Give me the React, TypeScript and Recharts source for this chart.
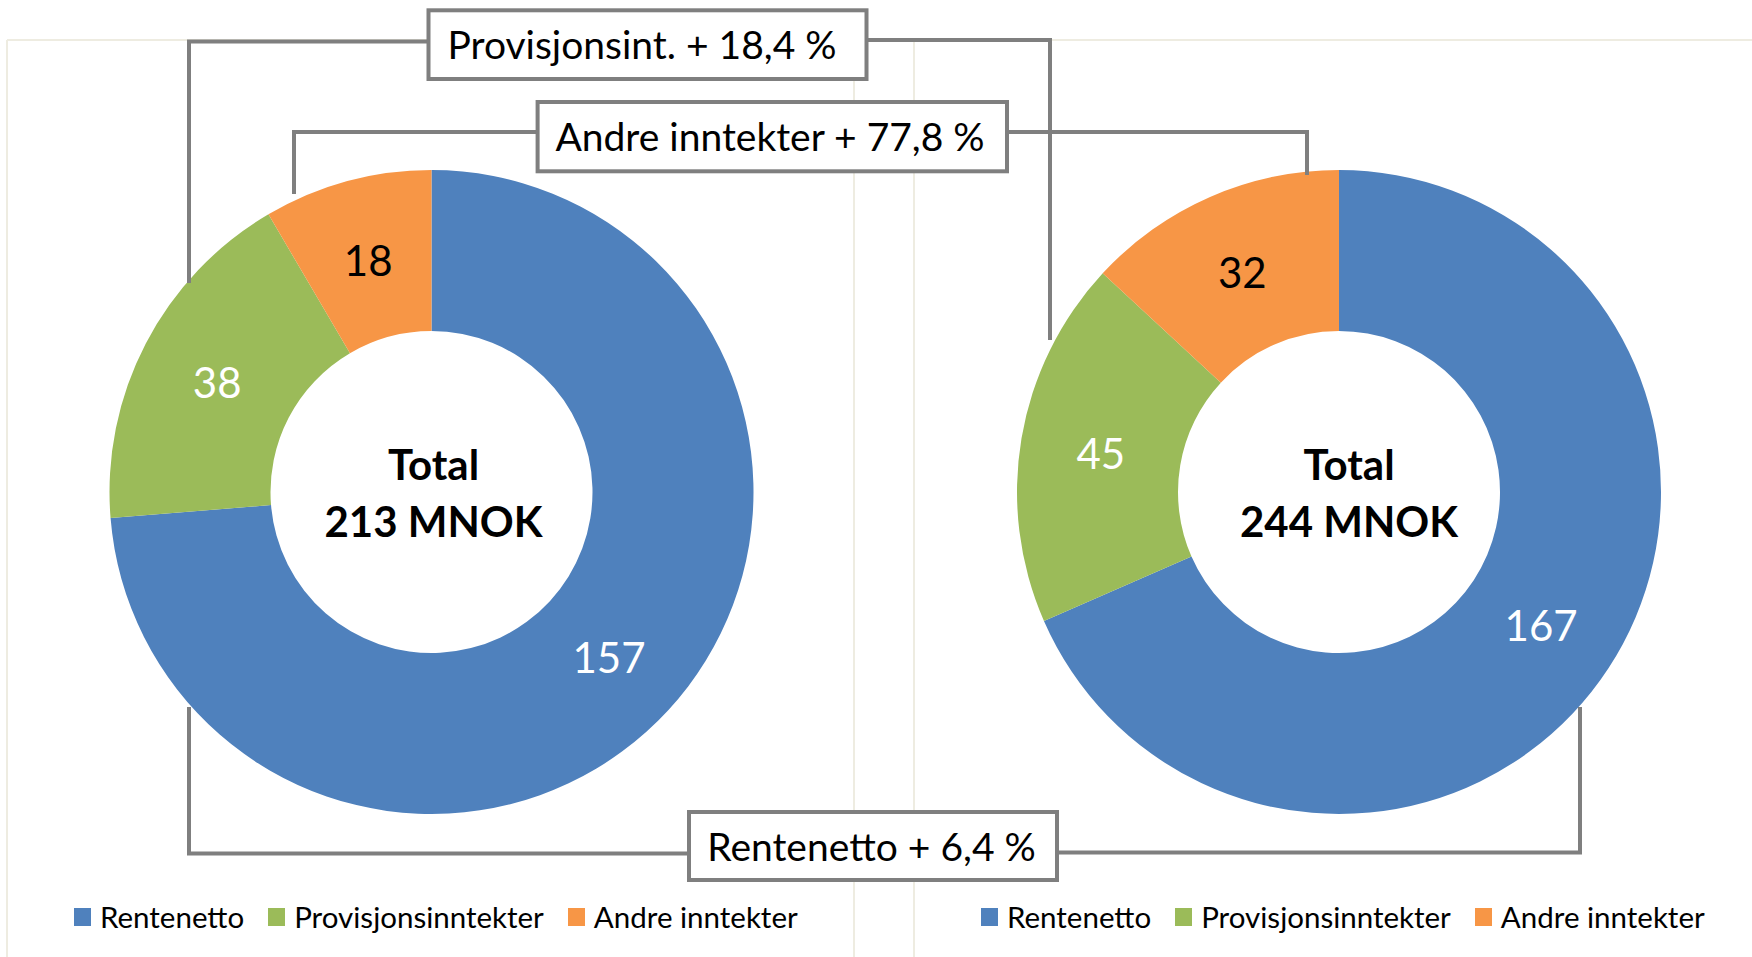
import React from 'react';
import { PieChart, Pie, Cell } from 'recharts';

const categories = ['Rentenetto', 'Provisjonsinntekter', 'Andre inntekter'];
const colors = ['#4F81BD', '#9BBB59', '#F79646'];
const labelColors = ['#FFFFFF', '#FFFFFF', '#000000'];
const valuesLeft = [157, 38, 18];
const valuesRight = [167, 45, 32];
const changeLabels = ['Provisjonsint. + 18,4 %', 'Andre inntekter + 77,8 %', 'Rentenetto + 6,4 %'];
const totalWord = 'Total';
const unit = 'MNOK';

const W = 1752;
const H = 957;
const FONT = 'Lato, "Open Sans", sans-serif';
const GRAY = '#7F7F7F';
const PANEL = '#EEECE1';

const pies = [
  { cx: 431.5, cy: 492, values: valuesLeft, textDx: 2, legendX: 74 },
  { cx: 1339, cy: 492, values: valuesRight, textDx: 10, legendX: 981 },
];
const INNER = 161;
const OUTER = 322;
const RAD = Math.PI / 180;

const boxes = [
  { x: 428.5, y: 10.3, w: 438, h: 68.7, tx: 642, ty: 59 },
  { x: 537.6, y: 102, w: 469.4, h: 69.3, tx: 770, ty: 151 },
  { x: 689, y: 812, w: 368, h: 68, tx: 871.5, ty: 861 },
];
const connectors = [
  'M 428 41.5 H 189 V 283',
  'M 867 40 H 1050 V 340',
  'M 537 132 H 294 V 194',
  'M 1007 132 H 1307 V 175',
  'M 689 853.5 H 189 V 707',
  'M 1057 852.5 H 1580 V 707',
];

const renderLabel = (props: any) => {
  const { cx, cy, midAngle, innerRadius, outerRadius, value, index } = props;
  const r = (innerRadius + outerRadius) / 2;
  const x = cx + r * Math.cos(-midAngle * RAD);
  const y = cy + r * Math.sin(-midAngle * RAD);
  return (
    <text
      x={x}
      y={y + 17}
      textAnchor="middle"
      fill={labelColors[index]}
      style={{ fontFamily: FONT, fontSize: 42 }}
    >
      {value}
    </text>
  );
};

export default function App() {
  return (
    <div style={{ position: 'absolute', left: 0, top: 0, width: W, height: H, background: '#fff', overflow: 'hidden' }}>
      <svg width={W} height={H} style={{ position: 'absolute', left: 0, top: 0 }}>
        <line x1={7} y1={40} x2={W} y2={40} stroke={PANEL} strokeWidth={2} />
        <line x1={7} y1={40} x2={7} y2={H} stroke={PANEL} strokeWidth={2} />
        <line x1={854} y1={40} x2={854} y2={H} stroke={PANEL} strokeWidth={2} />
        <line x1={914} y1={40} x2={914} y2={H} stroke={PANEL} strokeWidth={2} />
      </svg>
      <div style={{ position: 'absolute', left: 0, top: 0 }}>
        <PieChart width={W} height={H} margin={{ top: 0, right: 0, bottom: 0, left: 0 }}>
          {pies.map((p, pi) => (
            <Pie
              key={pi}
              data={categories.map((name, i) => ({ name, value: p.values[i] }))}
              dataKey="value"
              nameKey="name"
              cx={p.cx}
              cy={p.cy}
              innerRadius={INNER}
              outerRadius={OUTER}
              startAngle={90}
              endAngle={-270}
              stroke="none"
              isAnimationActive={false}
              label={renderLabel}
              labelLine={false}
            >
              {categories.map((c, i) => (
                <Cell key={c} fill={colors[i]} />
              ))}
            </Pie>
          ))}
        </PieChart>
      </div>
      <svg width={W} height={H} style={{ position: 'absolute', left: 0, top: 0, pointerEvents: 'none' }}>
        {pies.map((p, pi) => (
          <g key={pi} style={{ fontFamily: FONT, fontWeight: 700, fontSize: 42 }}>
            <text x={p.cx + p.textDx} y={480} textAnchor="middle" fill="#000">{totalWord}</text>
            <text x={p.cx + p.textDx} y={537} textAnchor="middle" fill="#000">
              {`${p.values.reduce((a, b) => a + b, 0)} ${unit}`}
            </text>
          </g>
        ))}
        {connectors.map((d, i) => (
          <path key={i} d={d} fill="none" stroke={GRAY} strokeWidth={4} />
        ))}
        {boxes.map((b, i) => (
          <g key={i}>
            <rect x={b.x} y={b.y} width={b.w} height={b.h} fill="#fff" stroke={GRAY} strokeWidth={4} />
            <text x={b.tx} y={b.ty} textAnchor="middle" fill="#000" style={{ fontFamily: FONT, fontSize: 39 }}>
              {changeLabels[i]}
            </text>
          </g>
        ))}
      </svg>
      {pies.map((p, pi) => (
        <div
          key={pi}
          style={{
            position: 'absolute',
            left: p.legendX,
            top: 899,
            display: 'flex',
            alignItems: 'center',
            fontFamily: FONT,
            fontSize: 29.5,
            lineHeight: 1.2,
            color: '#000',
            whiteSpace: 'nowrap',
          }}
        >
          {categories.map((c, i) => (
            <div key={c} style={{ display: 'flex', alignItems: 'center', marginRight: 24 }}>
              <div style={{ width: 17, height: 18, background: colors[i], marginRight: 9 }} />
              <span>{c}</span>
            </div>
          ))}
        </div>
      ))}
    </div>
  );
}
